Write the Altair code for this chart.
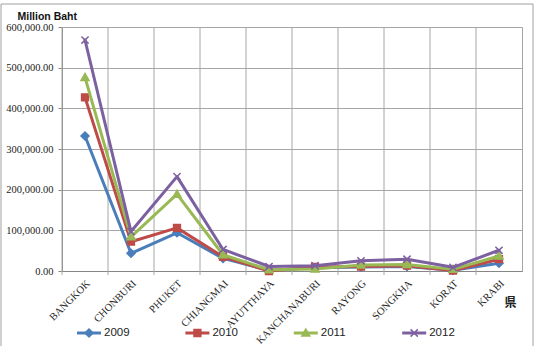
import altair as alt
import pandas as pd

# Provinces along the x axis, in display order
provinces = ["BANGKOK", "CHONBURI", "PHUKET", "CHIANGMAI", "AYUTTHAYA",
             "KANCHANABURI", "RAYONG", "SONGKHA", "KORAT", "KRABI"]
years = ["2009", "2010", "2011", "2012"]

# Revenue by province (million baht)
v2009 = [332000, 43500, 94000, 31000, 2000, 8000, 10000, 11000, 2000, 19000]
v2010 = [427000, 72000, 106000, 35000, 0, 10000, 11000, 13000, 1000, 29000]
v2011 = [476000, 84000, 189000, 40000, 3000, 5000, 15000, 16000, 4000, 37000]
v2012 = [568000, 97000, 232000, 53000, 11000, 13000, 25000, 29000, 9000, 51000]
y_ticks = [0, 100000, 200000, 300000, 400000, 500000, 600000]

series = dict(zip(years, [v2009, v2010, v2011, v2012]))
df = pd.DataFrame(
    [{"province": p, "year": y, "value": v}
     for y in years for p, v in zip(provinces, series[y])]
)

colors = ["#4A7EBB", "#BE4B48", "#98B954", "#7D60A0"]
markers = [
    "M0,-1L1,0L0,1L-1,0Z",                 # diamond
    "M-0.85,-0.85H0.85V0.85H-0.85Z",       # square
    "M0,-1L1,0.75H-1Z",                    # triangle
    "M-0.9,-0.9L0.9,0.9M0.9,-0.9L-0.9,0.9",  # x
]

GRID = "#A6A6A6"
AXIS = "#868686"
W, H = 460, 244

color_scale = alt.Scale(domain=years, range=colors)
shape_scale = alt.Scale(domain=years, range=markers)
x_scale = alt.Scale(type="band", domain=provinces, paddingInner=0, paddingOuter=0)

x_axis = alt.Axis(
    title="県", titleAngle=0, titleX=448, titleY=31, titleAlign="center",
    titleBaseline="middle", titleFont="Noto Sans CJK JP", titleFontSize=12,
    titleFontWeight="bold", titleColor="#222",
    labelAngle=-45, labelAlign="right", labelBaseline="top", labelPadding=7,
    labelFont="Liberation Serif", labelFontSize=10.5, labelColor="#222",
    ticks=False, grid=False, domainColor=AXIS,
)
y_axis = alt.Axis(
    values=y_ticks, format=",.2f",
    title="Million Baht", titleAngle=0, titleX=-45, titleY=-11,
    titleAlign="left", titleBaseline="middle", titleFont="Liberation Sans",
    titleFontSize=10.5, titleFontWeight="bold", titleColor="#111",
    labelFont="Liberation Serif", labelFontSize=10.5, labelColor="#222",
    labelPadding=5, tickSize=4, tickColor=AXIS, domainColor=AXIS,
    grid=True, gridColor=GRID,
)

x_enc = alt.X("province:N", sort=provinces, bandPosition=0.5, scale=x_scale, axis=x_axis)
y_enc = alt.Y("value:Q", scale=alt.Scale(domain=[0, 600000]), axis=y_axis)

# Vertical grid lines on the category boundaries
grid = alt.Chart(pd.DataFrame({"province": provinces})).mark_rule(
    color=GRID, strokeWidth=1
).encode(
    x=alt.X("province:N", sort=provinces, bandPosition=0, scale=x_scale, axis=x_axis),
    y=alt.value(0), y2=alt.value(H + 4),
)

layers = [grid]
for i, yr in enumerate(years):
    sub = alt.Chart(df).transform_filter(alt.datum.year == yr)
    line = sub.mark_line(strokeWidth=3, strokeJoin="round", strokeCap="round").encode(
        x=x_enc, y=y_enc,
        color=alt.Color("year:N", scale=color_scale, legend=None),
    )
    pts = sub.mark_point(filled=True, size=64, strokeWidth=1.5, opacity=1).encode(
        x=x_enc, y=y_enc,
        color=alt.Color("year:N", scale=color_scale, legend=None),
        stroke=alt.Stroke("year:N", scale=color_scale, legend=None),
        shape=alt.Shape("year:N", scale=shape_scale, legend=None),
    )
    layers += [line, pts]

# Legend row under the axis
leg_y = 306
for i, yr in enumerate(years):
    lx = 15 + 108.4 * i
    ld = alt.Chart(pd.DataFrame({"year": [yr]}))
    layers.append(ld.mark_rule(strokeWidth=3).encode(
        x=alt.value(lx), x2=alt.value(lx + 24), y=alt.value(leg_y),
        color=alt.Color("year:N", scale=color_scale, legend=None),
    ))
    layers.append(ld.mark_point(filled=True, size=64, strokeWidth=1.5, opacity=1).encode(
        x=alt.value(lx + 12), y=alt.value(leg_y),
        color=alt.Color("year:N", scale=color_scale, legend=None),
        stroke=alt.Stroke("year:N", scale=color_scale, legend=None),
        shape=alt.Shape("year:N", scale=shape_scale, legend=None),
    ))
    layers.append(ld.mark_text(
        align="left", baseline="middle", font="Liberation Sans", fontSize=11.5, color="#222"
    ).encode(
        x=alt.value(lx + 27), y=alt.value(leg_y), text="year:N",
    ))

# Chart-area border
frame = alt.Chart(pd.DataFrame({"k": [0]})).mark_rect(
    fill=None, stroke="#A0A0A0", strokeWidth=1
).encode(
    x=alt.value(-61), x2=alt.value(471), y=alt.value(-23), y2=alt.value(330),
)
layers.append(frame)

chart = alt.layer(*layers).properties(
    width=W, height=H,
    autosize=alt.AutoSizeParams(type="none"),
    padding={"left": 62, "top": 27, "right": 13, "bottom": 75},
    background="white",
).configure_view(stroke=GRID, strokeWidth=1)

chart.save("out.html", embed_options={"renderer": "svg", "actions": False})
